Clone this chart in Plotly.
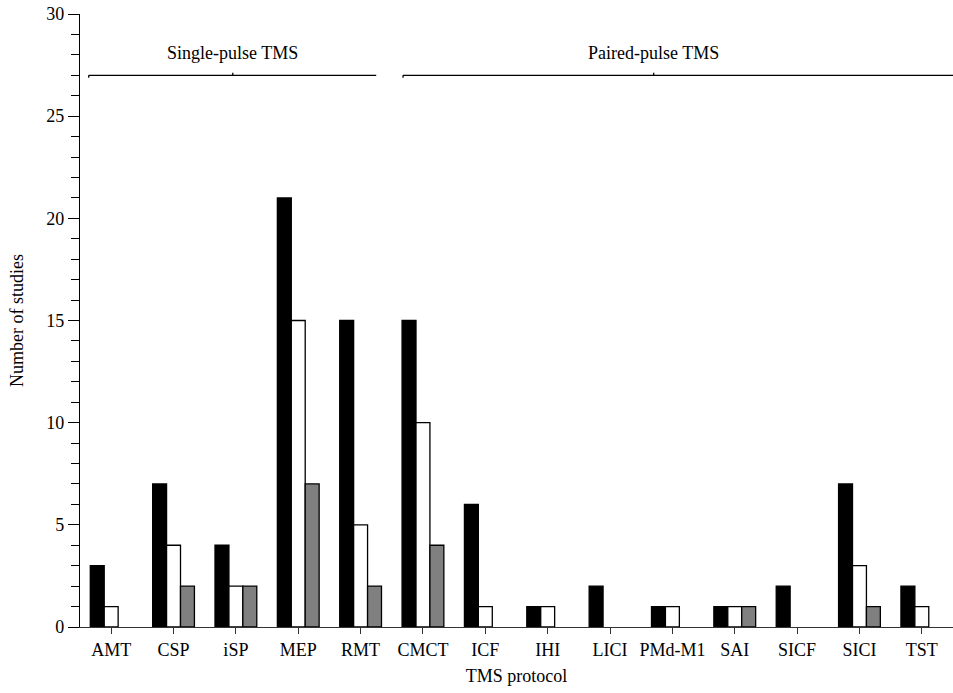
import plotly.graph_objects as go

categories = ["AMT", "CSP", "iSP", "MEP", "RMT", "CMCT", "ICF", "IHI", "LICI",
              "PMd-M1", "SAI", "SICF", "SICI", "TST"]
series_black = [3, 7, 4, 21, 15, 15, 6, 1, 2, 1, 1, 2, 7, 2]
series_white = [1, 4, 2, 15, 5, 10, 1, 1, 0, 1, 1, 0, 3, 1]
series_gray = [0, 2, 2, 7, 2, 4, 0, 0, 0, 0, 1, 0, 1, 0]
group_labels = ["Single-pulse TMS", "Paired-pulse TMS"]

font_family = "Liberation Serif, Times New Roman, serif"
FS = 18

fig = go.Figure()
for vals, col in [(series_black, "#000000"), (series_white, "#ffffff"), (series_gray, "#808080")]:
    fig.add_trace(go.Bar(
        x=list(range(len(categories))),
        y=[v if v else None for v in vals],
        marker=dict(color=col, line=dict(color="#000000", width=1.3)),
        showlegend=False,
    ))

# Bracket lines
brackets = [(-0.36, 4.25, 1.95, group_labels[0]), (4.68, 13.6, 8.70, group_labels[1])]
for x0, x1, xm, lab in brackets:
    fig.add_shape(type="line", x0=x0, x1=x1, y0=27, y1=27, xref="x", yref="y",
                  line=dict(color="#000000", width=1.3))
    fig.add_shape(type="line", x0=x0, x1=x0, y0=27, y1=26.88, xref="x", yref="y",
                  line=dict(color="#000000", width=1.3))
    fig.add_shape(type="line", x0=xm, x1=xm, y0=27, y1=27.12, xref="x", yref="y",
                  line=dict(color="#000000", width=1.3))
    fig.add_annotation(x=xm, y=28.1, text=lab, showarrow=False, xref="x", yref="y",
                       font=dict(family=font_family, size=FS, color="#000000"))

fig.update_layout(
    width=953, height=693,
    margin=dict(l=80, r=0, t=14, b=66),
    paper_bgcolor="white", plot_bgcolor="white",
    barmode="group", bargap=0.33, bargroupgap=0,
    font=dict(family=font_family, size=FS, color="#000000"),
    xaxis=dict(
        range=[-0.5, 13.5], automargin=False,
        tickmode="array", tickvals=list(range(len(categories))), ticktext=categories,
        ticks="outside", ticklen=6, tickcolor="#333333",
        showline=True, linecolor="#333333", linewidth=1.3,
        showgrid=False, zeroline=False,
        title=dict(text="TMS protocol", standoff=10, font=dict(size=FS)),
        tickfont=dict(size=FS),
    ),
    yaxis=dict(
        range=[0, 30], dtick=5, automargin=False,
        ticks="outside", ticklen=11, tickcolor="#000000",
        minor=dict(dtick=1, ticks="outside", ticklen=8, tickcolor="#000000"),
        showline=True, linecolor="#000000", linewidth=1.3,
        showgrid=False, zeroline=False,
        title=dict(text="Number of studies", standoff=17, font=dict(size=FS)),
        tickfont=dict(size=FS),
    ),
)

fig.write_html("out.html", config={"displayModeBar": False},
               post_script="document.body.style.margin='0';")
